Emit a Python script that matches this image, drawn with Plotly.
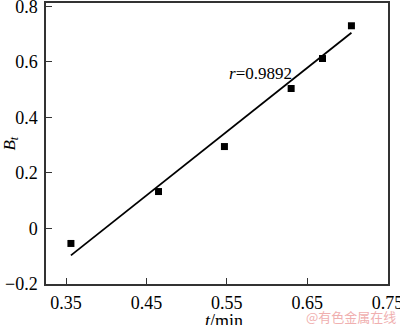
import plotly.graph_objects as go

# data
t_min = [0.356, 0.465, 0.547, 0.630, 0.669, 0.705]
B_t = [-0.054, 0.133, 0.295, 0.504, 0.612, 0.730]
fit_t = [0.356, 0.705]
fit_B = [-0.097, 0.705]
x_ticks = [0.35, 0.45, 0.55, 0.65, 0.75]
x_tick_labels = ["0.35", "0.45", "0.55", "0.65", "0.75"]
y_ticks = [-0.2, 0, 0.2, 0.4, 0.6, 0.8]
y_tick_labels = ["\u22120.2", "0", "0.2", "0.4", "0.6", "0.8"]
r_text = "<i>r</i>=0.9892"

FONT = "Liberation Serif"

fig = go.Figure()
fig.add_trace(go.Scatter(x=fit_t, y=fit_B, mode="lines",
                         line=dict(color="black", width=1.8), showlegend=False))
fig.add_trace(go.Scatter(x=t_min, y=B_t, mode="markers",
                         marker=dict(symbol="square", size=7, color="black"),
                         showlegend=False))

fig.add_annotation(x=0.55, y=0.558, xref="x", yref="y", text=r_text,
                   showarrow=False, xanchor="left", yanchor="middle",
                   font=dict(family=FONT, size=17, color="black"))
fig.add_annotation(x=-0.105, y=0.5, xref="paper", yref="paper",
                   text="<i>B</i><sub><i>t</i></sub>", textangle=-90,
                   showarrow=False, xanchor="center", yanchor="middle",
                   font=dict(family=FONT, size=17, color="black"))
fig.add_annotation(x=0.52, y=-0.132, xref="paper", yref="paper",
                   text="<i>t</i>/min", showarrow=False,
                   xanchor="center", yanchor="middle",
                   font=dict(family=FONT, size=18, color="black"))
fig.add_annotation(x=1.03, y=-0.114, xref="paper", yref="paper",
                   text="@有色金属在线", showarrow=False,
                   xanchor="right", yanchor="middle",
                   font=dict(family="Noto Sans CJK SC", size=13, color="#f0b0b0"))

axis_common = dict(showgrid=False, zeroline=False, showline=True, linecolor="#333",
                   linewidth=1.5, mirror=True, ticks="inside", ticklen=6,
                   tickcolor="#333", tickwidth=1.2, automargin=False,
                   ticklabeloverflow="allow",
                   tickfont=dict(family=FONT, size=18, color="black"))
fig.update_xaxes(range=[0.325, 0.7505], tickvals=x_ticks, ticktext=x_tick_labels,
                 ticklabelstandoff=2, **axis_common)
fig.update_yaxes(range=[-0.2, 0.812], tickvals=y_ticks, ticktext=y_tick_labels,
                 ticklabelstandoff=3, **axis_common)

fig.update_layout(width=400, height=325,
                  margin=dict(l=46, r=12, t=3, b=41),
                  paper_bgcolor="white", plot_bgcolor="white")

fig.write_html("out.html", config={"displayModeBar": False},
               post_script="document.body.style.margin='0';")
